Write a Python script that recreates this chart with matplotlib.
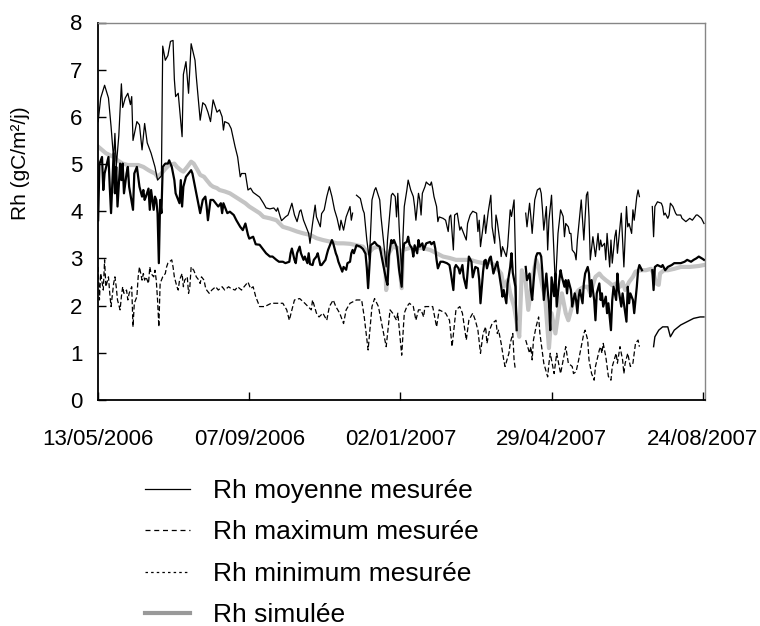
import matplotlib
matplotlib.use("Agg")
import matplotlib.pyplot as plt
import matplotlib.dates as mdates
from matplotlib.lines import Line2D
import numpy as np
import pandas as pd

plt.rcParams['font.family'] = ['Liberation Sans', 'DejaVu Sans']

start = pd.Timestamp('2006-05-13')
tick_days = [0, 117, 234, 351, 468]

# Rh maximum (top thin line): day offset, value (None = gap)
max_pts = [(0,5.9),(2,6.4),(5,6.67),(8,6.4),(10,5.8),(12,5.1),(13,5.65),(14,4.94),(16,5.6),(18,6.7),(19,6.2),(21,6.4),
    (23,6.5),(25,6.26),(26,6.43),(27,5.5),(30,5.9),(32,5.83),(34,5.3),(36,5.86),(38,5.45),(40,5.3),(41,5.23),(44,4.94),
    (46,4.66),(49,4.75),(50,7.5),(52,7.2),(54,7.3),(56,7.6),(58,7.62),(59,6.8),(60,6.43),(62,6.5),(64,5.9),(65,5.58),
    (66,6.9),(68,7.17),(70,6.5),(72,7.55),(75,7.2),(76,6.85),(79,5.93),(81,6.3),(83,6.25),(85,6.1),(87,5.9),(89,6.36),
    (92,6.1),(94,6.15),(96,6.0),(97,5.72),(98,5.9),(101,5.86),(103,5.75),(106,5.37),(108,5.15),(110,4.73),(111,4.8),
    (114,4.8),(116,4.45),(118,4.49),(120,4.4),(123,4.34),(125,4.3),(128,4.17),(130,4.07),(133,4.05),(136,4.07),(138,4.0),
    (139,4.07),(141,3.88),(142,3.8),(145,3.88),(147,3.92),(148,4.0),(150,4.17),(152,3.92),(154,3.78),(156,4.0),(157,4.03),
    (159,3.81),(161,3.67),(163,3.53),(164,3.32),(166,3.74),(168,4.13),(169,3.88),(172,3.67),(173,3.95),(175,4.03),
    (177,4.31),(179,4.52),(181,4.31),(183,4.03),(185,3.85),(187,3.6),(188,3.81),(190,3.6),(192,3.88),(195,4.1),(196,3.81),
    (197,3.96),(198,None),(200,4.34),(203,4.27),(205,4.03),(206,3.96),(208,3.39),(210,2.97),(212,4.24),(214,4.45),
    (215,4.5),(218,4.24),(219,3.88),(221,3.35),(223,2.82),(224,3.39),(226,4.03),(227,4.34),(228,4.38),(230,4.31),
    (231,3.88),(232,4.38),(233,3.68),(235,2.68),(236,3.46),(237,4.1),(239,4.45),(240,4.66),(242,4.45),(244,4.31),
    (245,4.1),(246,3.81),(248,4.38),(249,4.24),(250,3.92),(251,4.38),(253,4.52),(254,4.62),(255,4.59),(257,4.55),
    (258,4.62),(259,4.48),(260,4.31),(262,4.1),(263,3.78),(264,3.88),(267,3.85),(269,3.81),(271,3.57),(272,3.88),
    (273,3.92),(275,3.18),(276,3.92),(278,3.96),(280,3.6),(281,3.67),(283,3.53),(285,3.39),(286,3.74),(288,3.92),
    (290,4.0),(293,3.96),(294,3.57),(295,3.81),(296,3.25),(298,3.67),(299,3.92),(300,3.53),(302,3.99),(304,4.34),
    (305,3.67),(307,3.32),(308,3.92),(309,3.78),(311,3.36),(312,3.04),(313,3.25),(316,3.04),(317,3.25),(319,4.03),
    (320,3.89),(322,4.24),(323,3.1),(324,1.7),(325,None),(331,3.96),(332,3.67),(334,4.17),(335,3.88),(336,3.53),
    (338,4.24),(340,4.45),(342,4.49),(343,4.38),(344,4.03),(345,3.6),(347,4.1),(348,3.18),(349,3.81),(351,4.34),
    (352,3.67),(354,2.4),(356,3.53),(358,4.03),(360,3.89),(361,3.46),(362,3.74),(364,3.67),(365,3.53),(366,3.53),
    (367,3.18),(369,3.11),(370,2.97),(371,3.39),(372,3.67),(374,4.24),(375,3.81),(376,3.39),(378,4.34),(379,4.41),
    (380,3.88),(381,2.97),(383,3.46),(384,3.25),(385,3.04),(387,3.53),(388,3.18),(389,3.39),(390,3.25),(392,3.32),
    (393,2.97),(394,3.53),(396,2.82),(397,3.39),(398,2.9),(400,3.46),(401,3.6),(402,3.11),(404,3.67),(405,3.96),
    (406,3.39),(407,2.82),(409,4.1),(410,3.67),(411,3.74),(413,3.53),(414,4.03),(415,3.81),(417,4.31),(418,4.45),
    (419,4.31),(420,None),(429,4.1),(430,3.46),(431,4.1),(433,4.2),(436,4.17),(437,4.1),(438,3.92),(439,3.96),
    (441,3.85),(442,3.92),(443,4.17),(445,4.1),(446,4.03),(447,3.96),(448,3.92),(451,3.92),(452,3.85),(455,3.78),
    (458,3.85),(460,3.81),(463,3.92),(464,3.92),(467,3.85),(469,3.74)]

# Rh moyenne (thicker black line)
mean_pts = [(0,3.81),(1,5.0),(3,5.15),(4,4.45),(5,4.8),(8,5.15),(9,4.52),(10,3.96),(12,5.23),(13,4.38),(14,4.94),
    (15,4.1),(17,5.01),(18,4.66),(19,5.01),(20,4.38),(22,4.8),(23,4.94),(24,4.52),(27,4.03),(28,4.8),(30,4.94),(31,4.73),
    (32,4.52),(34,4.31),(35,4.45),(36,4.24),(37,4.31),(39,4.48),(40,4.03),(41,4.45),(43,4.03),(44,4.31),(45,4.24),
    (46,3.96),(47,2.9),(48,4.24),(49,3.96),(50,4.94),(52,5.01),(54,5.01),(55,5.08),(57,4.94),(59,4.66),(60,4.38),
    (61,4.31),(63,4.17),(64,4.66),(65,4.1),(66,4.52),(68,4.73),(70,4.8),(72,4.87),(73,4.8),(75,4.52),(77,4.24),(79,3.96),
    (81,4.24),(83,4.31),(84,4.1),(85,3.81),(87,4.24),(89,4.24),(91,4.17),(93,4.1),(95,4.17),(96,3.96),(97,4.17),
    (100,3.96),(102,3.99),(105,3.92),(107,3.81),(110,3.67),(112,3.6),(114,3.74),(116,3.5),(117,3.42),(120,3.46),
    (122,3.3),(125,3.29),(128,3.18),(130,3.11),(133,3.04),(135,3.04),(138,2.97),(140,2.93),(143,2.93),(145,2.9),
    (148,2.93),(149,3.11),(150,3.21),(152,2.97),(153,2.9),(154,3.11),(156,3.25),(157,3.11),(159,2.97),(160,3.04),
    (162,2.9),(163,3.11),(164,2.88),(166,2.86),(167,2.97),(169,3.04),(170,3.11),(172,2.86),(173,2.86),(176,2.97),
    (177,3.08),(178,3.18),(180,3.32),(181,3.39),(182,3.32),(184,3.11),(185,3.04),(186,2.93),(188,2.79),(189,2.72),
    (190,2.82),(192,2.76),(193,2.9),(195,2.93),(196,3.11),(197,3.18),(198,3.11),(200,3.28),(203,3.25),(205,3.2),
    (207,3.1),(208,2.8),(209,2.37),(211,3.28),(213,3.32),(214,3.35),(216,3.28),(218,3.25),(220,2.97),(222,2.68),
    (223,2.54),(224,2.44),(225,3.04),(227,3.39),(228,3.32),(229,3.39),(231,3.25),(232,3.04),(233,2.76),(235,2.4),
    (236,3.11),(237,3.32),(239,3.35),(240,3.46),(241,3.3),(243,3.21),(244,3.04),(245,3.28),(247,3.11),(248,3.39),
    (249,3.25),(251,3.32),(252,3.18),(254,3.32),(257,3.35),(258,3.3),(260,3.35),(261,3.21),(262,2.97),(263,2.79),
    (265,2.93),(267,2.93),(270,2.9),(272,2.86),(273,2.7),(275,2.33),(276,2.8),(277,2.86),(279,2.79),(280,2.68),
    (282,2.86),(283,2.6),(285,2.37),(286,2.7),(287,3.04),(289,2.93),(290,2.6),(292,2.82),(294,2.79),(295,2.55),
    (296,2.05),(298,2.72),(299,2.95),(300,2.97),(301,2.79),(303,3.0),(304,3.04),(305,2.86),(306,2.68),(308,2.86),
    (309,2.93),(310,2.76),(312,2.4),(313,2.19),(314,2.33),(316,2.05),(317,2.47),(319,2.82),(320,3.11),(321,2.7),
    (323,2.4),(324,1.48),(325,None),(331,2.82),(332,2.54),(334,2.68),(335,2.33),(336,2.12),(338,2.82),(339,3.04),
    (340,3.11),(342,3.11),(343,3.04),(344,2.68),(345,2.12),(347,2.68),(348,2.33),(349,2.05),(350,1.48),(351,2.6),
    (353,2.2),(354,2.68),(355,1.98),(357,2.54),(358,2.75),(359,2.61),(361,2.4),(362,2.54),(363,2.26),(364,2.54),
    (366,2.33),(367,1.98),(369,2.26),(370,2.12),(371,1.84),(372,2.19),(373,2.33),(375,2.05),(376,2.47),(377,2.68),
    (379,2.82),(380,2.68),(381,2.19),(382,2.54),(384,2.12),(385,1.69),(386,2.26),(388,2.47),(389,2.12),(390,2.26),
    (391,1.98),(393,2.19),(394,1.84),(395,2.05),(397,1.48),(398,2.12),(399,2.4),(401,2.12),(402,2.68),(403,2.33),
    (405,1.98),(406,2.26),(407,2.05),(409,1.66),(410,2.4),(411,2.05),(412,2.26),(414,2.12),(415,1.84),(417,2.4),
    (418,2.75),(419,2.86),(421,2.75),(422,None),(429,2.75),(430,2.33),(431,2.82),(433,2.86),(436,2.82),(437,2.86),
    (439,2.75),(441,2.82),(444,2.86),(446,2.9),(449,2.9),(451,2.9),(454,2.93),(456,2.97),(459,2.93),(461,2.97),
    (463,3.0),(465,3.04),(468,2.99),(469,2.97)]

# Rh minimum (dashed lower line)
min_pts = [(0,2.82),(1,2.12),(2,2.68),(4,2.33),(5,2.97),(6,2.4),(8,2.61),(9,2.26),(10,1.98),(12,2.47),(13,2.61),(14,2.4),
    (15,2.12),(17,1.91),(18,2.19),(19,2.4),(20,2.26),(22,2.33),(23,2.12),(24,2.26),(26,2.4),(27,1.55),(28,2.05),(30,2.19),
    (31,2.61),(32,2.82),(34,2.54),(35,2.68),(36,2.54),(37,2.61),(39,2.47),(40,2.82),(41,2.68),(43,2.61),(44,2.75),
    (45,2.54),(46,2.12),(47,1.55),(48,2.47),(49,2.54),(50,2.61),(52,2.68),(53,2.82),(54,2.9),(57,2.97),(58,2.82),
    (59,2.61),(61,2.4),(62,2.33),(63,2.54),(65,2.68),(66,2.4),(67,2.54),(69,2.61),(70,2.26),(71,2.4),(72,2.82),(74,2.75),
    (75,2.68),(76,2.61),(78,2.54),(79,2.47),(80,2.61),(82,2.54),(83,2.4),(84,2.33),(86,2.26),(88,2.33),(91,2.4),(93,2.33),
    (96,2.4),(98,2.33),(101,2.4),(103,2.36),(106,2.33),(108,2.4),(111,2.33),(113,2.4),(116,2.5),(118,2.36),(120,2.4),
    (122,2.19),(125,1.98),(129,1.98),(134,2.05),(139,2.05),(143,2.05),(146,1.91),(148,1.69),(150,1.91),(152,2.12),
    (156,2.15),(160,2.05),(165,1.91),(166,2.12),(169,1.84),(171,1.76),(174,1.84),(177,1.69),(179,1.98),(182,2.12),
    (184,1.98),(187,1.84),(190,1.62),(192,1.91),(195,2.05),(200,2.12),(204,2.12),(206,1.76),(209,1.06),(212,1.98),
    (214,2.15),(217,1.98),(219,1.69),(223,1.13),(226,1.91),(228,1.84),(231,1.69),(232,1.84),(235,0.95),(237,1.84),
    (239,1.98),(241,2.05),(244,1.98),(246,1.69),(248,1.91),(250,1.91),(252,1.76),(253,1.98),(255,1.98),(259,1.98),
    (262,1.55),(264,1.91),(269,1.84),(272,1.69),(274,1.13),(277,1.91),(280,1.98),(282,1.84),(285,1.27),(287,1.69),
    (290,1.84),(292,1.69),(294,1.48),(296,0.99),(298,1.41),(300,1.55),(301,1.2),(303,1.48),(305,1.62),(308,1.69),
    (309,1.41),(310,1.48),(312,1.2),(314,0.85),(315,0.71),(318,0.99),(319,1.2),(321,1.41),(322,0.85),(323,0.64),
    (324,None),(331,1.27),(334,0.99),(335,1.13),(336,0.85),(337,1.27),(339,1.55),(341,1.76),(342,1.41),(345,0.78),
    (348,0.49),(349,0.78),(350,0.99),(353,0.56),(355,0.99),(358,0.56),(361,0.99),(362,1.13),(364,0.78),(367,0.71),
    (368,0.56),(370,0.6),(372,0.85),(373,0.99),(376,1.41),(377,1.48),(379,1.27),(380,0.85),(382,0.56),(384,0.42),
    (385,0.71),(388,1.06),(389,1.13),(390,0.99),(391,1.2),(393,0.92),(395,0.5),(397,0.42),(398,0.71),(401,0.99),
    (402,0.78),(404,1.13),(406,0.85),(407,0.56),(408,0.78),(410,0.99),(412,0.71),(414,0.78),(415,0.99),(416,1.2),
    (418,1.27),(419,1.13),(420,None)]
# after the data gap the minimum is drawn solid
min_end_pts = [(430,1.13),(431,1.34),(434,1.48),(437,1.55),(441,1.55),(443,1.34),(446,1.48),(451,1.59),(456,1.66),
    (461,1.73),(466,1.76),(469,1.76)]

# Rh simulee (grey thick line)
sim_pts = [(0,5.37),(3,5.3),(6,5.23),(12,5.15),(15,5.08),(19,5.01),(23,4.98),(27,4.98),(31,4.98),(35,4.94),(39,4.87),
    (41,4.84),(44,4.8),(46,4.73),(49,4.8),(52,4.9),(55,4.98),(59,5.01),(61,4.94),(64,4.87),(66,4.84),(69,4.94),(72,5.05),
    (74,5.01),(77,4.87),(79,4.77),(82,4.73),(84,4.66),(87,4.56),(89,4.52),(92,4.49),(94,4.45),(98,4.42),(102,4.38),
    (106,4.31),(110,4.24),(114,4.17),(117,4.1),(121,4.03),(125,3.96),(128,3.88),(133,3.85),(138,3.81),(143,3.67),
    (148,3.63),(154,3.57),(159,3.53),(164,3.5),(169,3.43),(174,3.39),(179,3.36),(185,3.32),(190,3.32),(195,3.31),
    (200,3.28),(205,3.25),(209,3.11),(213,3.22),(217,3.25),(222,3.11),(223,2.33),(225,3.11),(228,3.25),(232,3.22),
    (235,2.37),(236,3.18),(241,3.22),(246,3.22),(251,3.22),(257,3.18),(262,3.11),(267,3.04),(272,3.01),(277,2.97),
    (282,2.97),(288,2.97),(293,2.93),(298,2.9),(303,2.93),(307,2.85),(312,2.68),(314,2.4),(317,2.54),(319,2.26),
    (322,1.98),(325,1.48),(326,1.34),(328,2.75),(331,2.5),(333,1.91),(336,2.54),(339,2.97),(341,2.82),(344,2.4),
    (346,2.19),(349,1.1),(351,1.84),(354,1.41),(357,2.0),(359,2.26),(362,1.84),(364,1.69),(367,2.0),(370,2.26),
    (372,2.33),(376,2.4),(379,2.4),(381,2.26),(385,2.61),(388,2.68),(390,2.61),(393,2.54),(395,2.5),(398,2.43),
    (401,2.47),(404,2.4),(406,2.5),(408,2.33),(411,2.5),(414,2.61),(416,2.72),(420,2.75),(424,2.75),(428,2.78),
    (430,2.68),(432,2.47),(434,2.44),(435,2.68),(438,2.75),(441,2.75),(446,2.78),(451,2.82),(458,2.82),(465,2.84),
    (469,2.86)]


def series(pts):
    d = np.array([p[0] for p in pts], dtype=float)
    v = np.array([np.nan if p[1] is None else p[1] for p in pts], dtype=float)
    return start + pd.to_timedelta(d, unit='D'), v


fig = plt.figure(figsize=(7.6, 6.26), dpi=100)
ax = fig.add_axes([98/760, 1-400/626, 607/760, 377.5/626])

x, y = series(sim_pts)
ax.plot(x, y, color='#c4c4c4', lw=3.0, solid_joinstyle='round', zorder=1)
x, y = series(min_pts)
ax.plot(x, y, color='black', lw=0.9, linestyle=(0, (4, 2)), zorder=2)
x, y = series(min_end_pts)
ax.plot(x, y, color='black', lw=1.0, zorder=2)
x, y = series(max_pts)
ax.plot(x, y, color='black', lw=0.9, zorder=3)
x, y = series(mean_pts)
ax.plot(x, y, color='black', lw=1.6, zorder=4)

ax.set_ylim(0, 8)
ax.set_yticks(range(0, 9))
ax.set_xlim(start - pd.Timedelta(days=0.1), start + pd.Timedelta(days=469.8))
ax.set_xticks([start + pd.Timedelta(days=d) for d in tick_days])
ax.xaxis.set_major_formatter(mdates.DateFormatter('%d/%m/%Y'))

for s in ['top', 'right']:
    ax.spines[s].set_color('#868686')
    ax.spines[s].set_linewidth(1.0)
for s in ['left', 'bottom']:
    ax.spines[s].set_color('black')
    ax.spines[s].set_linewidth(1.3)

ax.tick_params(axis='both', direction='in', length=6, width=1, labelsize=16)
ax.tick_params(axis='x', pad=21)
ax.tick_params(axis='y', pad=11)

ax.set_ylabel('Rh (gC/m²/j)', fontsize=15)
ax.yaxis.set_label_coords(-0.112, 0.628)

handles = [Line2D([], [], color='black', lw=0.9),
           Line2D([], [], color='black', lw=0.9, linestyle=(0, (4, 3))),
           Line2D([], [], color='black', lw=0.9, linestyle=(0, (2, 2.5))),
           Line2D([], [], color='#999999', lw=3)]
labels = ['Rh moyenne mesurée', 'Rh maximum mesurée', 'Rh minimum mesurée', 'Rh simulée']
fig.legend(handles, labels, loc='upper left', bbox_to_anchor=(145/760, 1-479/626), frameon=False,
           fontsize=19, handlelength=1.7, handletextpad=0.87, labelspacing=0.66,
           borderpad=0, borderaxespad=0)

fig.savefig('out.png', dpi=100)
